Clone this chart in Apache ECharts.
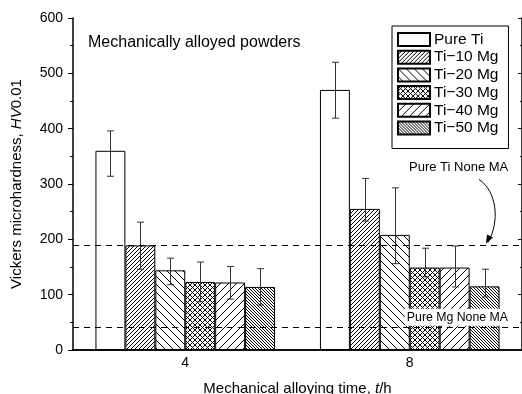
<!DOCTYPE html>
<html><head><meta charset="utf-8">
<script src="https://cdn.jsdelivr.net/npm/echarts@6/dist/echarts.min.js"></script>
<style>html,body{margin:0;padding:0;background:#fff}#c{width:522px;height:394px}</style>
</head><body><div id="c"></div>
<script>
// Milling time categories (hours)
const times = ['4', '8'];
const alloyNames = ['Pure Ti', 'Ti\u221210 Mg', 'Ti\u221220 Mg', 'Ti\u221230 Mg', 'Ti\u221240 Mg', 'Ti\u221250 Mg'];

// Mean hardness HV0.01 at 4 h and 8 h
const pureTi = [360, 470];
const ti10Mg = [189, 255];
const ti20Mg = [144, 208];
const ti30Mg = [123, 149];
const ti40Mg = [122, 149];
const ti50Mg = [114, 115];

// Scatter band ends (upper / lower) for each alloy
const pureTiHigh = [396, 520], pureTiLow = [314, 419];
const ti10High = [231, 310], ti10Low = [146, 233];
const ti20High = [166, 293], ti20Low = [118, 156];
const ti30High = [159, 184], ti30Low = [87, 132];
const ti40High = [151, 188], ti40Low = [92, 114];
const ti50High = [147, 146], ti50Low = [81, 96];

// Reference hardness of unmilled powders
const pureTiNoneMA = 189;
const pureMgNoneMA = 42;

const yTicks = [0, 100, 200, 300, 400, 500, 600];

const means = [pureTi, ti10Mg, ti20Mg, ti30Mg, ti40Mg, ti50Mg];
const highs = [pureTiHigh, ti10High, ti20High, ti30High, ti40High, ti50High];
const lows = [pureTiLow, ti10Low, ti20Low, ti30Low, ti40Low, ti50Low];

const FONT = 'Liberation Sans, Arial, sans-serif';

// Hatch fills drawn pixel by pixel so the lines stay crisp
function hatch(n, dirs) {
  const cv = document.createElement('canvas');
  cv.width = n; cv.height = n;
  const g = cv.getContext('2d');
  g.fillStyle = '#fff'; g.fillRect(0, 0, n, n);
  g.fillStyle = '#000';
  for (let i = 0; i < n; i++) {
    if (dirs.indexOf('/') >= 0) g.fillRect(i, n - 1 - i, 1, 1);
    if (dirs.indexOf('\\') >= 0) g.fillRect(i, i, 1, 1);
  }
  return { image: cv, repeat: 'repeat' };
}
const fills = ['#ffffff', hatch(4, '/'), hatch(8, '\\'), hatch(5, '/\\'), hatch(8, '/'), hatch(3, '\\')];

const chart = echarts.init(document.getElementById('c'), null, { renderer: 'canvas' });

const barSeries = means.map((vals, k) => ({
  name: alloyNames[k],
  type: 'bar',
  data: vals,
  barGap: '0%',
  barCategoryGap: '20%',
  itemStyle: { color: fills[k], borderColor: '#000', borderWidth: 1 },
  emphasis: { disabled: true },
  z: 2
}));

const errSeries = means.map((vals, k) => ({
  type: 'custom',
  name: 'err' + k,
  z: 4,
  silent: true,
  data: vals.map((v, i) => [i, highs[k][i], lows[k][i]]),
  renderItem(params, api) {
    const band = api.size([1, 0])[0];
    const bw = band * 0.8 / 6;
    const top = api.coord([api.value(0), api.value(1)]);
    const bot = api.coord([api.value(0), api.value(2)]);
    const x = Math.round(top[0] + (k - 2.5) * bw) + 0.5;
    const cap = 3.5;
    const st = { stroke: '#333', lineWidth: 1, fill: null };
    return {
      type: 'group',
      children: [
        { type: 'line', shape: { x1: x, y1: top[1], x2: x, y2: bot[1] }, style: st },
        { type: 'line', shape: { x1: x - cap, y1: top[1], x2: x + cap, y2: top[1] }, style: st },
        { type: 'line', shape: { x1: x - cap, y1: bot[1], x2: x + cap, y2: bot[1] }, style: st }
      ]
    };
  }
}));

const refSeries = {
  type: 'line',
  name: 'ref',
  data: [],
  z: 6,
  silent: true,
  markLine: {
    silent: true,
    symbol: ['none', 'none'],
    lineStyle: { type: [6, 5], color: '#000', width: 1 },
    label: { show: false },
    data: [
      { yAxis: pureTiNoneMA },
      {
        yAxis: pureMgNoneMA,
        label: {
          show: true, position: 'insideEndTop', formatter: 'Pure Mg None MA',
          color: '#000', fontFamily: FONT, fontSize: 12.3,
          backgroundColor: '#fff', padding: [3, 2, 2, 2], distance: [12, 1]
        }
      }
    ]
  }
};

chart.setOption({
  animation: false,
  backgroundColor: '#fff',
  grid: { left: 73, right: 0, top: 18, bottom: 44, containLabel: false, outerBoundsMode: 'none' },
  legend: {
    data: alloyNames,
    orient: 'vertical',
    left: 392, top: 26,
    itemWidth: 32, itemHeight: 13, itemGap: 0.7,
    padding: [5, 10, 12, 5],
    borderColor: '#000', borderWidth: 1,
    backgroundColor: '#fff',
    icon: 'rect',
    selectedMode: false,
    textStyle: { fontFamily: FONT, fontSize: 15.5, lineHeight: 17, color: '#000', padding: [0, 0, 0, -1] }
  },
  xAxis: [{
    type: 'category', data: times, position: 'bottom',
    axisLine: { lineStyle: { color: '#000', width: 1.5 } },
    axisTick: { inside: true, length: 2, lineStyle: { color: '#000' } },
    axisLabel: { color: '#000', fontFamily: FONT, fontSize: 14, margin: 6 },
    name: 'Mechanical alloying time, {i|t}/h',
    nameLocation: 'middle', nameGap: 31,
    nameTextStyle: { color: '#000', fontFamily: FONT, fontSize: 15, rich: { i: { fontStyle: 'italic', fontFamily: FONT, fontSize: 15, color: '#000' } } }
  }, {
    type: 'category', data: times, position: 'top',
    axisLine: { lineStyle: { color: '#000', width: 1.5 } },
    axisTick: { inside: true, length: 2, lineStyle: { color: '#000' } },
    axisLabel: { show: false }
  }],
  yAxis: [{
    type: 'value', min: yTicks[0], max: yTicks[yTicks.length - 1], interval: 100,
    axisLine: { show: true, lineStyle: { color: '#000', width: 1.5 } },
    axisTick: { show: true, inside: false, length: 5, lineStyle: { color: '#000' } },
    minorTick: { show: true, splitNumber: 2, length: 3, lineStyle: { color: '#000' } },
    splitLine: { show: false },
    axisLabel: { color: '#000', fontFamily: FONT, fontSize: 14, margin: 10 },
    name: 'Vickers microhardness, {i|HV}0.01',
    nameLocation: 'middle', nameGap: 49, nameRotate: 90,
    nameTextStyle: { color: '#000', fontFamily: FONT, fontSize: 15, rich: { i: { fontStyle: 'italic', fontFamily: FONT, fontSize: 15, color: '#000' } } }
  }, {
    type: 'value', min: yTicks[0], max: yTicks[yTicks.length - 1], interval: 100, position: 'right',
    axisLine: { show: true, lineStyle: { color: '#000', width: 1.5 } },
    axisTick: { show: true, inside: true, length: 4, lineStyle: { color: '#000' } },
    minorTick: { show: true, splitNumber: 2, length: 2, lineStyle: { color: '#000' } },
    splitLine: { show: false },
    axisLabel: { show: false }
  }],
  series: barSeries.concat(errSeries, [refSeries])
});

// Annotation for the unmilled pure Ti reference line, anchored to its value
const yRef = chart.convertToPixel({ yAxisIndex: 0 }, pureTiNoneMA);
const ex = 488, ey = yRef - 3;
chart.setOption({
  graphic: [
    {
      type: 'text', left: 409, top: yRef - 84,
      style: { text: 'Pure Ti None MA', font: '13px ' + FONT, fill: '#000' }
    },
    {
      type: 'bezierCurve',
      shape: { x1: 479, y1: yRef - 66, cpx1: 497, cpy1: yRef - 54, cpx2: 500, cpy2: yRef - 24, x2: ex, y2: ey },
      style: { stroke: '#000', lineWidth: 1, fill: null }
    },
    {
      type: 'polygon',
      shape: { points: [[ex - 2, ey + 1], [ex - 1, ey - 8], [ex + 5, ey - 5]] },
      style: { fill: '#000' }
    },
    {
      type: 'text', left: 88, top: 35,
      style: { text: 'Mechanically alloyed powders', font: '16px ' + FONT, fill: '#000' }
    }
  ]
});
</script>
</body></html>
